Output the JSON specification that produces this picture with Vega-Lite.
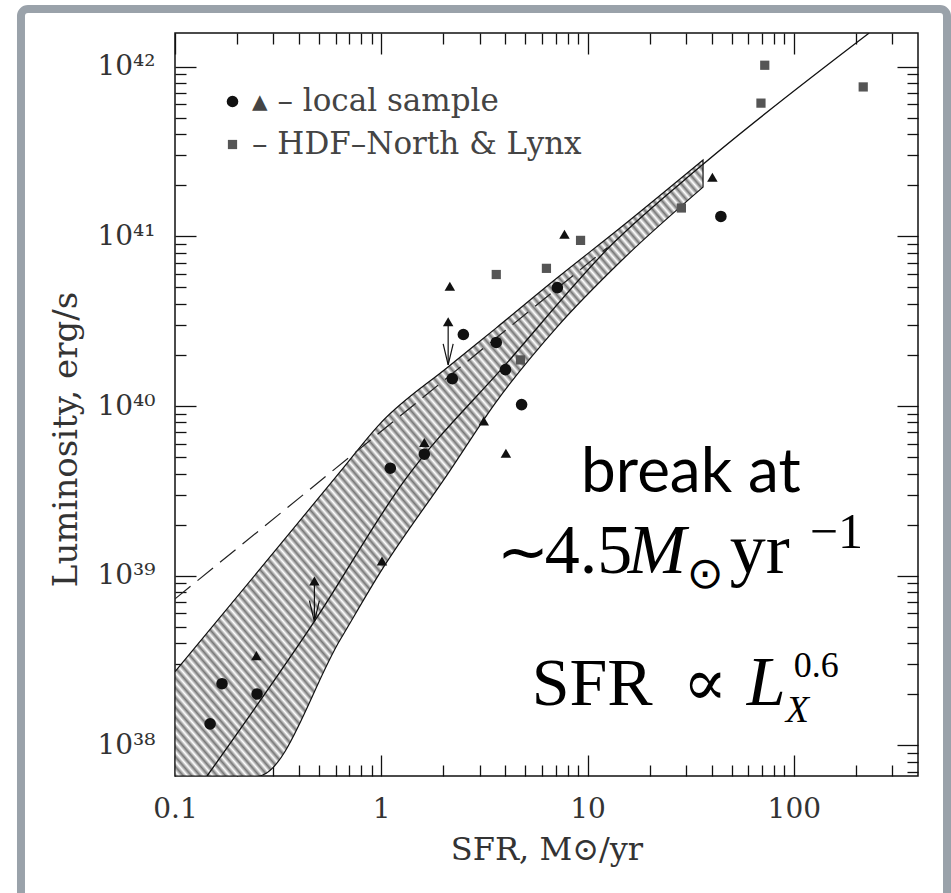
{
  "$schema": "https://vega.github.io/schema/vega-lite/v6.json",
  "width": 743,
  "height": 743,
  "autosize": "none",
  "padding": {"left": 175, "top": 33, "right": 33, "bottom": 117},
  "background": "white",
  "config": {
    "view": {"stroke": "#111111", "strokeWidth": 1.5},
    "axis": {"grid": false, "domain": false, "labelFont": "DejaVu Serif", "labelFontSize": 28, "labelColor": "#333333", "titleFont": "DejaVu Serif", "titleFontSize": 32, "titleFontWeight": "normal", "titleColor": "#333333", "tickColor": "#111111", "tickWidth": 1.3, "labelFlush": false, "labelOverlap": false},
    "legend": {"padding": 53, "labelFont": "DejaVu Serif", "labelFontSize": 31, "labelColor": "#444444", "labelLimit": 600, "symbolSize": 110, "rowPadding": 11, "labelOffset": 4, "symbolStrokeWidth": 0}
  },
  "datasets": {
    "frame": [{"x1": 0.01792, "x2": 552.9, "y1": 2.189e42, "y2": 1.146e37}],
    "band": [
      {"sfr": 0.1, "hi": 2.72e38, "lo": 6.6e37},
      {"sfr": 0.2526, "hi": 1.06e39, "lo": 6.6e37},
      {"sfr": 0.631, "hi": 4.09e39, "lo": 4.18e38},
      {"sfr": 0.99, "hi": 7.91e39, "lo": 1.05e39},
      {"sfr": 2.106, "hi": 1.7e40, "lo": 4.0e39},
      {"sfr": 3.6, "hi": 2.88e40, "lo": 1.056e40},
      {"sfr": 7.11, "hi": 5.68e40, "lo": 2.92e40},
      {"sfr": 14.37, "hi": 1.12e41, "lo": 7.06e40},
      {"sfr": 36.3, "hi": 2.82e41, "lo": 1.95e41}
    ],
    "dash": [{"sfr": 0.1, "lum": 7.3e38}, {"sfr": 12.5, "lum": 8.6e40}],
    "fit": [
      {"sfr": 0.143, "lum": 6.6e37},
      {"sfr": 0.473, "lum": 5.36e38},
      {"sfr": 1.3, "lum": 3.66e39},
      {"sfr": 4.06, "lum": 1.79e40},
      {"sfr": 13.3, "lum": 9.1e40},
      {"sfr": 35.1, "lum": 2.57e41},
      {"sfr": 232, "lum": 1.58e42}
    ],
    "arrows": [{"sfr": 2.11, "lum": 3.14e40, "tip": 1.75e40}, {"sfr": 0.474, "lum": 9.3e38, "tip": 5.36e38}],
    "pts": [
      {"sfr": 0.148, "lum": 1.34e38, "kind": "circle"},
      {"sfr": 0.169, "lum": 2.31e38, "kind": "circle"},
      {"sfr": 0.25, "lum": 2.01e38, "kind": "circle"},
      {"sfr": 1.106, "lum": 4.3e39, "kind": "circle"},
      {"sfr": 1.617, "lum": 5.2e39, "kind": "circle"},
      {"sfr": 2.21, "lum": 1.45e40, "kind": "circle"},
      {"sfr": 2.5, "lum": 2.64e40, "kind": "circle"},
      {"sfr": 3.61, "lum": 2.37e40, "kind": "circle"},
      {"sfr": 4.0, "lum": 1.64e40, "kind": "circle"},
      {"sfr": 4.79, "lum": 1.02e40, "kind": "circle"},
      {"sfr": 7.14, "lum": 4.99e40, "kind": "circle"},
      {"sfr": 44.3, "lum": 1.31e41, "kind": "circle"},
      {"sfr": 0.248, "lum": 3.38e38, "kind": "triangle"},
      {"sfr": 0.474, "lum": 9.3e38, "kind": "triangle"},
      {"sfr": 1.008, "lum": 1.22e39, "kind": "triangle"},
      {"sfr": 1.617, "lum": 6.1e39, "kind": "triangle"},
      {"sfr": 2.11, "lum": 3.14e40, "kind": "triangle"},
      {"sfr": 2.15, "lum": 5.08e40, "kind": "triangle"},
      {"sfr": 3.14, "lum": 8.17e39, "kind": "triangle"},
      {"sfr": 4.02, "lum": 5.27e39, "kind": "triangle"},
      {"sfr": 7.73, "lum": 1.03e41, "kind": "triangle"},
      {"sfr": 40.3, "lum": 2.23e41, "kind": "triangle"},
      {"sfr": 3.61, "lum": 5.96e40, "kind": "square"},
      {"sfr": 4.73, "lum": 1.87e40, "kind": "square"},
      {"sfr": 6.32, "lum": 6.48e40, "kind": "square"},
      {"sfr": 9.25, "lum": 9.47e40, "kind": "square"},
      {"sfr": 28.5, "lum": 1.47e41, "kind": "square"},
      {"sfr": 69.3, "lum": 6.1e41, "kind": "square"},
      {"sfr": 72.3, "lum": 1.02e42, "kind": "square"},
      {"sfr": 217, "lum": 7.6e41, "kind": "square"}
    ],
    "notes": [
      {"id": "a", "sfr": 31.7, "lum": 3.13e39},
      {"id": "b", "sfr": 3.63, "lum": 1.034e39},
      {"id": "c", "sfr": 5.36, "lum": 1.73e38}
    ]
  },
  "encoding": {
    "x": {"field": "sfr", "type": "quantitative", "scale": {"type": "log", "domain": [0.1, 400], "nice": false}, "axis": null},
    "y": {"field": "lum", "type": "quantitative", "scale": {"type": "log", "domain": [6.6e37, 1.58e42], "nice": false}, "axis": null}
  },
  "layer": [
    {
      "data": {"name": "frame"},
      "mark": {"type": "rect", "fillOpacity": 0, "stroke": "#9aa2aa", "strokeWidth": 8, "cornerRadius": 7, "clip": false},
      "encoding": {
        "x": {"field": "x1", "type": "quantitative", "scale": {"type": "log", "domain": [0.1, 400], "nice": false}, "axis": null},
        "x2": {"field": "x2"},
        "y": {"field": "y1", "type": "quantitative", "scale": {"type": "log", "domain": [6.6e37, 1.58e42], "nice": false}, "axis": null},
        "y2": {"field": "y2"}
      }
    },
    {
      "data": {"name": "band"},
      "mark": {"type": "area", "interpolate": "monotone", "clip": true, "stroke": "#111111", "strokeWidth": 1.2, "fill": {"gradient": "linear", "x1": 0, "y1": 1, "x2": 1, "y2": 0, "stops": [
        {"offset":0,"color":"#777"},{"offset":0.004,"color":"#fff"},{"offset":0.008,"color":"#777"},{"offset":0.012,"color":"#fff"},{"offset":0.016,"color":"#777"},{"offset":0.02,"color":"#fff"},{"offset":0.024,"color":"#777"},{"offset":0.028,"color":"#fff"},{"offset":0.032,"color":"#777"},{"offset":0.036,"color":"#fff"},
        {"offset":0.04,"color":"#777"},{"offset":0.044,"color":"#fff"},{"offset":0.048,"color":"#777"},{"offset":0.052,"color":"#fff"},{"offset":0.056,"color":"#777"},{"offset":0.06,"color":"#fff"},{"offset":0.064,"color":"#777"},{"offset":0.068,"color":"#fff"},{"offset":0.072,"color":"#777"},{"offset":0.076,"color":"#fff"},
        {"offset":0.08,"color":"#777"},{"offset":0.084,"color":"#fff"},{"offset":0.088,"color":"#777"},{"offset":0.092,"color":"#fff"},{"offset":0.096,"color":"#777"},{"offset":0.1,"color":"#fff"},{"offset":0.104,"color":"#777"},{"offset":0.108,"color":"#fff"},{"offset":0.112,"color":"#777"},{"offset":0.116,"color":"#fff"},
        {"offset":0.12,"color":"#777"},{"offset":0.124,"color":"#fff"},{"offset":0.128,"color":"#777"},{"offset":0.132,"color":"#fff"},{"offset":0.136,"color":"#777"},{"offset":0.14,"color":"#fff"},{"offset":0.144,"color":"#777"},{"offset":0.148,"color":"#fff"},{"offset":0.152,"color":"#777"},{"offset":0.156,"color":"#fff"},
        {"offset":0.16,"color":"#777"},{"offset":0.164,"color":"#fff"},{"offset":0.168,"color":"#777"},{"offset":0.172,"color":"#fff"},{"offset":0.176,"color":"#777"},{"offset":0.18,"color":"#fff"},{"offset":0.184,"color":"#777"},{"offset":0.188,"color":"#fff"},{"offset":0.192,"color":"#777"},{"offset":0.196,"color":"#fff"},
        {"offset":0.2,"color":"#777"},{"offset":0.204,"color":"#fff"},{"offset":0.208,"color":"#777"},{"offset":0.212,"color":"#fff"},{"offset":0.216,"color":"#777"},{"offset":0.22,"color":"#fff"},{"offset":0.224,"color":"#777"},{"offset":0.228,"color":"#fff"},{"offset":0.232,"color":"#777"},{"offset":0.236,"color":"#fff"},
        {"offset":0.24,"color":"#777"},{"offset":0.244,"color":"#fff"},{"offset":0.248,"color":"#777"},{"offset":0.252,"color":"#fff"},{"offset":0.256,"color":"#777"},{"offset":0.26,"color":"#fff"},{"offset":0.264,"color":"#777"},{"offset":0.268,"color":"#fff"},{"offset":0.272,"color":"#777"},{"offset":0.276,"color":"#fff"},
        {"offset":0.28,"color":"#777"},{"offset":0.284,"color":"#fff"},{"offset":0.288,"color":"#777"},{"offset":0.292,"color":"#fff"},{"offset":0.296,"color":"#777"},{"offset":0.3,"color":"#fff"},{"offset":0.304,"color":"#777"},{"offset":0.308,"color":"#fff"},{"offset":0.312,"color":"#777"},{"offset":0.316,"color":"#fff"},
        {"offset":0.32,"color":"#777"},{"offset":0.324,"color":"#fff"},{"offset":0.328,"color":"#777"},{"offset":0.332,"color":"#fff"},{"offset":0.336,"color":"#777"},{"offset":0.34,"color":"#fff"},{"offset":0.344,"color":"#777"},{"offset":0.348,"color":"#fff"},{"offset":0.352,"color":"#777"},{"offset":0.356,"color":"#fff"},
        {"offset":0.36,"color":"#777"},{"offset":0.364,"color":"#fff"},{"offset":0.368,"color":"#777"},{"offset":0.372,"color":"#fff"},{"offset":0.376,"color":"#777"},{"offset":0.38,"color":"#fff"},{"offset":0.384,"color":"#777"},{"offset":0.388,"color":"#fff"},{"offset":0.392,"color":"#777"},{"offset":0.396,"color":"#fff"},
        {"offset":0.4,"color":"#777"},{"offset":0.404,"color":"#fff"},{"offset":0.408,"color":"#777"},{"offset":0.412,"color":"#fff"},{"offset":0.416,"color":"#777"},{"offset":0.42,"color":"#fff"},{"offset":0.424,"color":"#777"},{"offset":0.428,"color":"#fff"},{"offset":0.432,"color":"#777"},{"offset":0.436,"color":"#fff"},
        {"offset":0.44,"color":"#777"},{"offset":0.444,"color":"#fff"},{"offset":0.448,"color":"#777"},{"offset":0.452,"color":"#fff"},{"offset":0.456,"color":"#777"},{"offset":0.46,"color":"#fff"},{"offset":0.464,"color":"#777"},{"offset":0.468,"color":"#fff"},{"offset":0.472,"color":"#777"},{"offset":0.476,"color":"#fff"},
        {"offset":0.48,"color":"#777"},{"offset":0.484,"color":"#fff"},{"offset":0.488,"color":"#777"},{"offset":0.492,"color":"#fff"},{"offset":0.496,"color":"#777"},{"offset":0.5,"color":"#fff"},{"offset":0.504,"color":"#777"},{"offset":0.508,"color":"#fff"},{"offset":0.512,"color":"#777"},{"offset":0.516,"color":"#fff"},
        {"offset":0.52,"color":"#777"},{"offset":0.524,"color":"#fff"},{"offset":0.528,"color":"#777"},{"offset":0.532,"color":"#fff"},{"offset":0.536,"color":"#777"},{"offset":0.54,"color":"#fff"},{"offset":0.544,"color":"#777"},{"offset":0.548,"color":"#fff"},{"offset":0.552,"color":"#777"},{"offset":0.556,"color":"#fff"},
        {"offset":0.56,"color":"#777"},{"offset":0.564,"color":"#fff"},{"offset":0.568,"color":"#777"},{"offset":0.572,"color":"#fff"},{"offset":0.576,"color":"#777"},{"offset":0.58,"color":"#fff"},{"offset":0.584,"color":"#777"},{"offset":0.588,"color":"#fff"},{"offset":0.592,"color":"#777"},{"offset":0.596,"color":"#fff"},
        {"offset":0.6,"color":"#777"},{"offset":0.604,"color":"#fff"},{"offset":0.608,"color":"#777"},{"offset":0.612,"color":"#fff"},{"offset":0.616,"color":"#777"},{"offset":0.62,"color":"#fff"},{"offset":0.624,"color":"#777"},{"offset":0.628,"color":"#fff"},{"offset":0.632,"color":"#777"},{"offset":0.636,"color":"#fff"},
        {"offset":0.64,"color":"#777"},{"offset":0.644,"color":"#fff"},{"offset":0.648,"color":"#777"},{"offset":0.652,"color":"#fff"},{"offset":0.656,"color":"#777"},{"offset":0.66,"color":"#fff"},{"offset":0.664,"color":"#777"},{"offset":0.668,"color":"#fff"},{"offset":0.672,"color":"#777"},{"offset":0.676,"color":"#fff"},
        {"offset":0.68,"color":"#777"},{"offset":0.684,"color":"#fff"},{"offset":0.688,"color":"#777"},{"offset":0.692,"color":"#fff"},{"offset":0.696,"color":"#777"},{"offset":0.7,"color":"#fff"},{"offset":0.704,"color":"#777"},{"offset":0.708,"color":"#fff"},{"offset":0.712,"color":"#777"},{"offset":0.716,"color":"#fff"},
        {"offset":0.72,"color":"#777"},{"offset":0.724,"color":"#fff"},{"offset":0.728,"color":"#777"},{"offset":0.732,"color":"#fff"},{"offset":0.736,"color":"#777"},{"offset":0.74,"color":"#fff"},{"offset":0.744,"color":"#777"},{"offset":0.748,"color":"#fff"},{"offset":0.752,"color":"#777"},{"offset":0.756,"color":"#fff"},
        {"offset":0.76,"color":"#777"},{"offset":0.764,"color":"#fff"},{"offset":0.768,"color":"#777"},{"offset":0.772,"color":"#fff"},{"offset":0.776,"color":"#777"},{"offset":0.78,"color":"#fff"},{"offset":0.784,"color":"#777"},{"offset":0.788,"color":"#fff"},{"offset":0.792,"color":"#777"},{"offset":0.796,"color":"#fff"},
        {"offset":0.8,"color":"#777"},{"offset":0.804,"color":"#fff"},{"offset":0.808,"color":"#777"},{"offset":0.812,"color":"#fff"},{"offset":0.816,"color":"#777"},{"offset":0.82,"color":"#fff"},{"offset":0.824,"color":"#777"},{"offset":0.828,"color":"#fff"},{"offset":0.832,"color":"#777"},{"offset":0.836,"color":"#fff"},
        {"offset":0.84,"color":"#777"},{"offset":0.844,"color":"#fff"},{"offset":0.848,"color":"#777"},{"offset":0.852,"color":"#fff"},{"offset":0.856,"color":"#777"},{"offset":0.86,"color":"#fff"},{"offset":0.864,"color":"#777"},{"offset":0.868,"color":"#fff"},{"offset":0.872,"color":"#777"},{"offset":0.876,"color":"#fff"},
        {"offset":0.88,"color":"#777"},{"offset":0.884,"color":"#fff"},{"offset":0.888,"color":"#777"},{"offset":0.892,"color":"#fff"},{"offset":0.896,"color":"#777"},{"offset":0.9,"color":"#fff"},{"offset":0.904,"color":"#777"},{"offset":0.908,"color":"#fff"},{"offset":0.912,"color":"#777"},{"offset":0.916,"color":"#fff"},
        {"offset":0.92,"color":"#777"},{"offset":0.924,"color":"#fff"},{"offset":0.928,"color":"#777"},{"offset":0.932,"color":"#fff"},{"offset":0.936,"color":"#777"},{"offset":0.94,"color":"#fff"},{"offset":0.944,"color":"#777"},{"offset":0.948,"color":"#fff"},{"offset":0.952,"color":"#777"},{"offset":0.956,"color":"#fff"},
        {"offset":0.96,"color":"#777"},{"offset":0.964,"color":"#fff"},{"offset":0.968,"color":"#777"},{"offset":0.972,"color":"#fff"},{"offset":0.976,"color":"#777"},{"offset":0.98,"color":"#fff"},{"offset":0.984,"color":"#777"},{"offset":0.988,"color":"#fff"},{"offset":0.992,"color":"#777"},{"offset":0.996,"color":"#fff"},
        {"offset":1,"color":"#777"}
      ]}},
      "encoding": {
        "x": {"field": "sfr", "type": "quantitative", "scale": {"type": "log", "domain": [0.1, 400], "nice": false}, "axis": {"orient": "top", "values": [0.1, 1, 10, 100], "labels": false, "tickSize": -21, "title": null}},
        "y": {"field": "hi", "type": "quantitative", "scale": {"type": "log", "domain": [6.6e37, 1.58e42], "nice": false}, "axis": {"orient": "right", "values": [1e38, 1e39, 1e40, 1e41, 1e42], "labels": false, "tickSize": -21, "title": null}},
        "y2": {"field": "lo"}
      }
    },
    {
      "data": {"name": "dash"},
      "mark": {"type": "line", "clip": true, "color": "#222222", "strokeWidth": 1.2, "strokeDash": [20, 9]},
      "encoding": {
        "x": {"field": "sfr", "type": "quantitative", "scale": {"type": "log", "domain": [0.1, 400], "nice": false}, "axis": {"orient": "bottom", "values": [0.1, 1, 10, 100], "labels": false, "tickSize": -21, "title": null}},
        "y": {"field": "lum", "type": "quantitative", "scale": {"type": "log", "domain": [6.6e37, 1.58e42], "nice": false}, "axis": {"orient": "left", "values": [1e38, 1e39, 1e40, 1e41, 1e42], "labels": false, "tickSize": -21, "title": null}}
      }
    },
    {
      "data": {"name": "fit"},
      "mark": {"type": "line", "clip": true, "color": "#111111", "strokeWidth": 1.3, "interpolate": "monotone"},
      "encoding": {
        "x": {"field": "sfr", "type": "quantitative", "scale": {"type": "log", "domain": [0.1, 400], "nice": false}, "axis": {"orient": "bottom", "values": [0.2, 0.3, 0.4, 0.5, 0.6, 0.7, 0.8, 0.9, 2, 3, 4, 5, 6, 7, 8, 9, 20, 30, 40, 50, 60, 70, 80, 90, 200, 300], "labels": false, "tickSize": -11, "title": null}},
        "y": {"field": "lum", "type": "quantitative", "scale": {"type": "log", "domain": [6.6e37, 1.58e42], "nice": false}, "axis": {"orient": "left", "values": [7e37, 8e37, 9e37, 2e38, 3e38, 4e38, 5e38, 6e38, 7e38, 8e38, 9e38, 2e39, 3e39, 4e39, 5e39, 6e39, 7e39, 8e39, 9e39, 2e40, 3e40, 4e40, 5e40, 6e40, 7e40, 8e40, 9e40, 2e41, 3e41, 4e41, 5e41, 6e41, 7e41, 8e41, 9e41], "labels": false, "tickSize": -11, "title": null}}
      }
    },
    {
      "data": {"name": "arrows"},
      "mark": {"type": "rule", "clip": true, "color": "#111111", "strokeWidth": 1.2},
      "encoding": {
        "x": {"field": "sfr", "type": "quantitative", "scale": {"type": "log", "domain": [0.1, 400], "nice": false}, "axis": {"orient": "top", "values": [0.2, 0.3, 0.4, 0.5, 0.6, 0.7, 0.8, 0.9, 2, 3, 4, 5, 6, 7, 8, 9, 20, 30, 40, 50, 60, 70, 80, 90, 200, 300], "labels": false, "tickSize": -11, "title": null}},
        "y": {"field": "lum", "type": "quantitative", "scale": {"type": "log", "domain": [6.6e37, 1.58e42], "nice": false}, "axis": {"orient": "right", "values": [7e37, 8e37, 9e37, 2e38, 3e38, 4e38, 5e38, 6e38, 7e38, 8e38, 9e38, 2e39, 3e39, 4e39, 5e39, 6e39, 7e39, 8e39, 9e39, 2e40, 3e40, 4e40, 5e40, 6e40, 7e40, 8e40, 9e40, 2e41, 3e41, 4e41, 5e41, 6e41, 7e41, 8e41, 9e41], "labels": false, "tickSize": -11, "title": null}},
        "y2": {"field": "tip"}
      }
    },
    {
      "data": {"name": "arrows"},
      "mark": {"type": "point", "shape": "M-1,-4.2L0,0L1,-4.2", "size": 100, "filled": false, "stroke": "#111111", "strokeWidth": 1.2, "opacity": 1},
      "encoding": {
        "y": {"field": "tip", "type": "quantitative", "scale": {"type": "log", "domain": [6.6e37, 1.58e42], "nice": false}, "axis": null}
      }
    },
    {
      "data": {"name": "pts"},
      "mark": {"type": "point", "filled": true, "opacity": 1, "strokeWidth": 0},
      "encoding": {
        "x": {"field": "sfr", "type": "quantitative", "scale": {"type": "log", "domain": [0.1, 400], "nice": false}, "axis": {"orient": "bottom", "values": [0.1, 1, 10, 100], "ticks": false, "labelPadding": 19, "labelExpr": "datum.value < 1 ? '0.1' : format(datum.value, 'd')", "title": "SFR, M⊙/yr", "titleY": 83, "titleBaseline": "alphabetic"}},
        "y": {"field": "lum", "type": "quantitative", "scale": {"type": "log", "domain": [6.6e37, 1.58e42], "nice": false}, "axis": {"orient": "left", "values": [1e38, 1e39, 1e40, 1e41, 1e42], "ticks": false, "labelPadding": 20, "labelExpr": "'10' + replace(replace(replace(replace(replace(replace(replace(format(round(log(datum.value)/LN10),'d'),'0','⁰'),'1','¹'),'2','²'),'3','³'),'4','⁴'),'8','⁸'),'9','⁹')", "title": "Luminosity, erg/s", "titleFontSize": 34, "titleX": -99, "titleY": 406, "titleBaseline": "alphabetic", "titleAngle": 270}},
        "shape": {"field": "kind", "type": "nominal", "scale": {"domain": ["circle", "triangle", "square"], "range": ["circle", "triangle-up", "square"]}, "legend": {"title": null, "orient": "none", "legendX": -11, "legendY": 0, "values": ["circle", "square"], "labelExpr": "datum.label == 'circle' ? '▴ – local sample' : ' – HDF–North & Lynx'"}},
        "color": {"field": "kind", "type": "nominal", "scale": {"domain": ["circle", "triangle", "square"], "range": ["#111111", "#111111", "#555555"]}, "legend": {"title": null, "orient": "none", "legendX": -11, "legendY": 0, "values": ["circle", "square"], "labelExpr": "datum.label == 'circle' ? '▴ – local sample' : ' – HDF–North & Lynx'"}},
        "size": {"field": "kind", "type": "ordinal", "scale": {"domain": ["circle", "triangle", "square"], "range": [135, 85, 95]}, "legend": null}
      }
    },
    {
      "data": {"name": "notes"},
      "transform": [{"filter": "datum.id == 'a'"}],
      "mark": {"type": "text", "text": "break at", "font": "Lato", "fontSize": 62, "align": "center", "baseline": "alphabetic", "color": "#000000"}
    },
    {
      "data": {"name": "notes"},
      "transform": [{"filter": "datum.id == 'b'"}],
      "mark": {"type": "text", "text": "∼", "font": "Liberation Serif", "fontSize": 62, "align": "left", "baseline": "alphabetic", "color": "#000000"}
    },
    {
      "data": {"name": "notes"},
      "transform": [{"filter": "datum.id == 'b'"}],
      "mark": {"type": "text", "text": "4.5", "font": "Liberation Serif", "fontSize": 70, "align": "left", "baseline": "alphabetic", "dx": 48, "color": "#000000"}
    },
    {
      "data": {"name": "notes"},
      "transform": [{"filter": "datum.id == 'b'"}],
      "mark": {"type": "text", "text": "M", "font": "Liberation Serif", "fontStyle": "italic", "fontSize": 70, "align": "left", "baseline": "alphabetic", "dx": 131, "color": "#000000"}
    },
    {
      "data": {"name": "notes"},
      "transform": [{"filter": "datum.id == 'b'"}],
      "mark": {"type": "text", "text": "⊙", "font": "DejaVu Sans", "fontSize": 44, "align": "left", "baseline": "alphabetic", "dx": 190, "dy": 15, "color": "#000000"}
    },
    {
      "data": {"name": "notes"},
      "transform": [{"filter": "datum.id == 'b'"}],
      "mark": {"type": "text", "text": "yr", "font": "Liberation Serif", "fontSize": 72, "align": "left", "baseline": "alphabetic", "dx": 233, "color": "#000000"}
    },
    {
      "data": {"name": "notes"},
      "transform": [{"filter": "datum.id == 'b'"}],
      "mark": {"type": "text", "text": "−1", "font": "Liberation Serif", "fontSize": 50, "align": "left", "baseline": "alphabetic", "dx": 313, "dy": -25, "color": "#000000"}
    },
    {
      "data": {"name": "notes"},
      "transform": [{"filter": "datum.id == 'c'"}],
      "mark": {"type": "text", "text": "SFR", "font": "Liberation Serif", "fontSize": 68, "align": "left", "baseline": "alphabetic", "color": "#000000"}
    },
    {
      "data": {"name": "notes"},
      "transform": [{"filter": "datum.id == 'c'"}],
      "mark": {"type": "text", "text": "∝", "font": "DejaVu Serif", "fontSize": 66, "align": "left", "baseline": "alphabetic", "dx": 151, "color": "#000000"}
    },
    {
      "data": {"name": "notes"},
      "transform": [{"filter": "datum.id == 'c'"}],
      "mark": {"type": "text", "text": "L", "font": "Liberation Serif", "fontStyle": "italic", "fontSize": 70, "align": "left", "baseline": "alphabetic", "dx": 215, "color": "#000000"}
    },
    {
      "data": {"name": "notes"},
      "transform": [{"filter": "datum.id == 'c'"}],
      "mark": {"type": "text", "text": "X", "font": "Liberation Serif", "fontStyle": "italic", "fontSize": 38, "align": "left", "baseline": "alphabetic", "dx": 254, "dy": 17, "color": "#000000"}
    },
    {
      "data": {"name": "notes"},
      "transform": [{"filter": "datum.id == 'c'"}],
      "mark": {"type": "text", "text": "0.6", "font": "Liberation Serif", "fontSize": 36, "align": "left", "baseline": "alphabetic", "dx": 262, "dy": -28, "color": "#000000"}
    }
  ],
  "resolve": {"axis": {"x": "independent", "y": "independent"}}
}
